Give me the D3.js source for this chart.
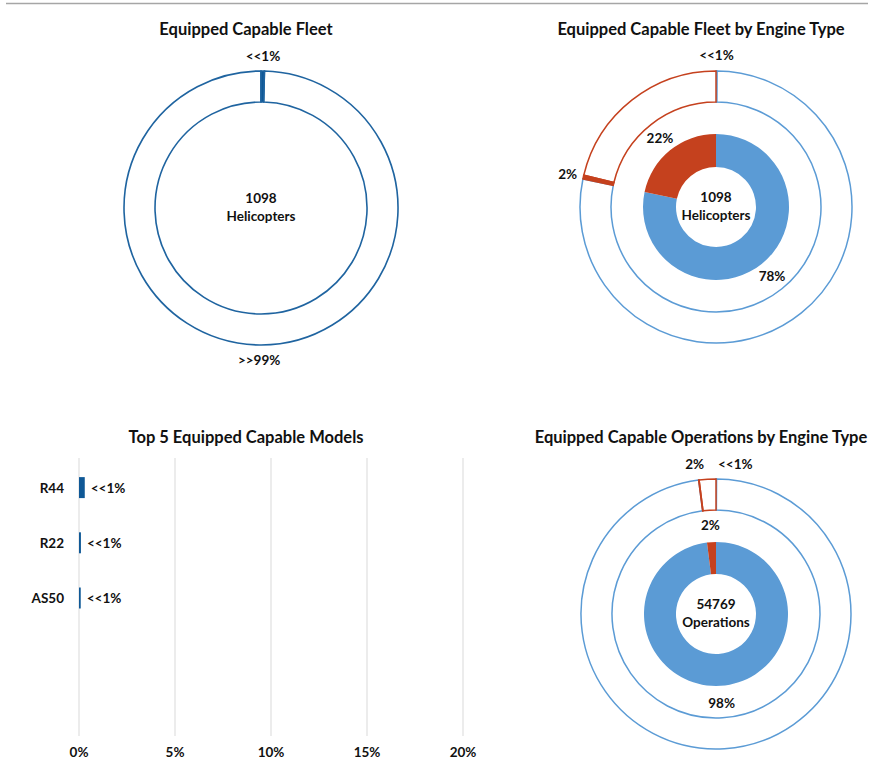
<!DOCTYPE html>
<html>
<head>
<meta charset="utf-8">
<script src="https://cdn.jsdelivr.net/npm/d3@7"></script>
<style>
  html, body { margin: 0; padding: 0; background: #ffffff; }
  svg text { font-family: Lato, "Noto Sans", "DejaVu Sans", sans-serif; font-weight: 700; fill: #111111; }
</style>
</head>
<body>
<svg id="chart" width="870" height="762"></svg>
<script>
// ---------------- DATA ----------------
const titles = [
  "Equipped Capable Fleet",
  "Equipped Capable Fleet by Engine Type",
  "Top 5 Equipped Capable Models",
  "Equipped Capable Operations by Engine Type"
];

// Panel 1: fleet share (percent of circle)
const fleetCategories = ["Equipped Capable", "Not Equipped Capable"];
const fleetValues = [0.4, 99.6];
const fleetLabels = ["<<1%", ">>99%"];
const fleetCenter = ["1098", "Helicopters"];

// Panel 2: fleet by engine type
const engineCategories = ["Piston", "Turbine"];
const fleetEngineValues = [78.3, 21.7];
const fleetEngineLabels = ["78%", "22%"];
// outer ring: piston EC, piston non-EC, turbine EC, turbine non-EC
const fleetRingCategories = ["Piston EC", "Piston non-EC", "Turbine EC", "Turbine non-EC"];
const fleetRingValues = [0.1, 78.2, 0.45, 21.25];
const fleetRingLabels = ["<<1%", "", "2%", ""];

// Panel 3: top 5 models (percent equipped capable)
const modelNames = ["R44", "R22", "AS50", "", ""];
const modelValues = [0.3, 0.1, 0.09, null, null];
const modelLabels = ["<<1%", "<<1%", "<<1%", "", ""];
const axisTicks = [0, 5, 10, 15, 20];

// Panel 4: operations by engine type
const opsCenter = ["54769", "Operations"];
const opsEngineValues = [98, 2];
const opsEngineLabels = ["98%", "2%"];
const opsRingValues = [0.05, 97.9, 0.05, 2.0];
const opsRingLabels = ["<<1%", "", "2%", ""];

// ---------------- STYLE ----------------
const BLUE = "#5b9bd5", RED = "#c5411e", DARK = "#1f64a0", DARKFILL = "#0f5896";
const FS = 13.5;
const svg = d3.select("#chart");

// top rule
svg.append("line").attr("x1", 6).attr("x2", 868).attr("y1", 3.5).attr("y2", 3.5)
  .attr("stroke", "#a6a6a6").attr("stroke-width", 1.5);

function title(txt, x, y) {
  svg.append("text").attr("x", x).attr("y", y + 1.5).attr("text-anchor", "middle")
    .attr("dominant-baseline", "middle").style("font-size", "16.5px").text(txt);
}
function label(g, txt, x, y, anchor) {
  g.append("text").attr("x", x).attr("y", y + 1.5).attr("text-anchor", anchor || "middle")
    .attr("dominant-baseline", "middle").style("font-size", FS + "px").text(txt);
}
const pie = d3.pie().sort(null).value(d => d);
const polar = (a, r) => [Math.sin(a) * r, -Math.cos(a) * r];

// ---------- Panel 1 ----------
title(titles[0], 246, 29);
{
  const g = svg.append("g").attr("transform", "translate(261,208)");
  const arcs = pie(fleetValues);
  const arc = d3.arc().innerRadius(106).outerRadius(137);
  [1, 0].forEach(i => {
    g.append("path").attr("d", arc(arcs[i]))
      .attr("fill", i === 0 ? DARKFILL : "#ffffff")
      .attr("stroke", DARK).attr("stroke-width", 1.6);
  });
  arcs.forEach((a, i) => {
    const m = (a.startAngle + a.endAngle) / 2;
    const [x, y] = polar(m, 152);
    label(g, fleetLabels[i], x, y);
  });
  label(g, fleetCenter[0], 0, -10);
  label(g, fleetCenter[1], 0, 8);
}

// ---------- Engine donut helper ----------
function engineDonut(cx, cy, ringVals, ringLabels, innerVals, innerLabels, center, rings, outerLabelMode) {
  const g = svg.append("g").attr("transform", `translate(${cx},${cy})`);
  const ringArcs = pie(ringVals);
  const ringArc = d3.arc().innerRadius(rings.r1).outerRadius(rings.r2);
  const ringColor = i => (i < 2 ? BLUE : RED);
  const ringFill = i => (i === 0 ? BLUE : i === 2 ? RED : "#ffffff");
  [1, 0, 3, 2].forEach(i => {
    g.append("path").attr("d", ringArc(ringArcs[i]))
      .attr("fill", ringFill(i)).attr("stroke", ringColor(i)).attr("stroke-width", 1.5)
      .attr("stroke-linejoin", "miter");
  });
  const innerArcs = pie(innerVals);
  const innerArc = d3.arc().innerRadius(rings.h).outerRadius(rings.r0);
  innerArcs.forEach((a, i) => {
    g.append("path").attr("d", innerArc(a)).attr("fill", i === 0 ? BLUE : RED);
    const m = (a.startAngle + a.endAngle) / 2;
    const [x, y] = polar(m, rings.lab);
    label(g, innerLabels[i], x, y);
  });
  if (outerLabelMode === "spread") {
    ringArcs.forEach((a, i) => {
      if (!ringLabels[i]) return;
      const m = (a.startAngle + a.endAngle) / 2;
      const [x, y] = polar(m, rings.r2 + 16);
      label(g, ringLabels[i], x, y);
    });
  } else {
    const yTop = -(rings.r2 + 15);
    const edge = polar(ringArcs[3].startAngle, rings.r2)[0];
    label(g, ringLabels[2], edge + 5, yTop, "end");
    label(g, ringLabels[0], 2, yTop, "start");
  }
  label(g, center[0], 0, -10);
  label(g, center[1], 0, 8);
}

// ---------- Panel 2 ----------
title(titles[1], 701, 29);
engineDonut(716, 207, fleetRingValues, fleetRingLabels, fleetEngineValues, fleetEngineLabels,
  fleetCenter, { r1: 105, r2: 136, r0: 73, h: 40, lab: 89 }, "spread");

// ---------- Panel 4 ----------
title(titles[3], 701, 437);
engineDonut(716, 614, opsRingValues, opsRingLabels, opsEngineValues, opsEngineLabels,
  opsCenter, { r1: 104, r2: 135, r0: 72, h: 40, lab: 89 }, "top");

// ---------- Panel 3 ----------
title(titles[2], 246, 437);
{
  const g = svg.append("g");
  const x = d3.scaleLinear().domain([0, 20]).range([79, 463]);
  const y = d3.scaleBand().domain(d3.range(modelNames.length)).range([460, 736])
    .paddingInner(0.62).paddingOuter(0.31);
  g.selectAll("line.grid").data(axisTicks).join("line").attr("class", "grid")
    .attr("x1", d => x(d)).attr("x2", d => x(d)).attr("y1", 458).attr("y2", 736)
    .attr("stroke", "#d9d9d9").attr("stroke-width", 1);
  axisTicks.forEach(d => label(g, d + "%", x(d), 752.5));
  modelValues.forEach((v, i) => {
    if (v == null) return;
    g.append("rect").attr("x", x(0)).attr("y", y(i))
      .attr("width", x(v) - x(0)).attr("height", y.bandwidth()).attr("fill", DARKFILL);
    label(g, modelLabels[i], x(v) + 6, y(i) + y.bandwidth() / 2, "start");
    label(g, modelNames[i], 64, y(i) + y.bandwidth() / 2, "end");
  });
}
</script>
</body>
</html>
